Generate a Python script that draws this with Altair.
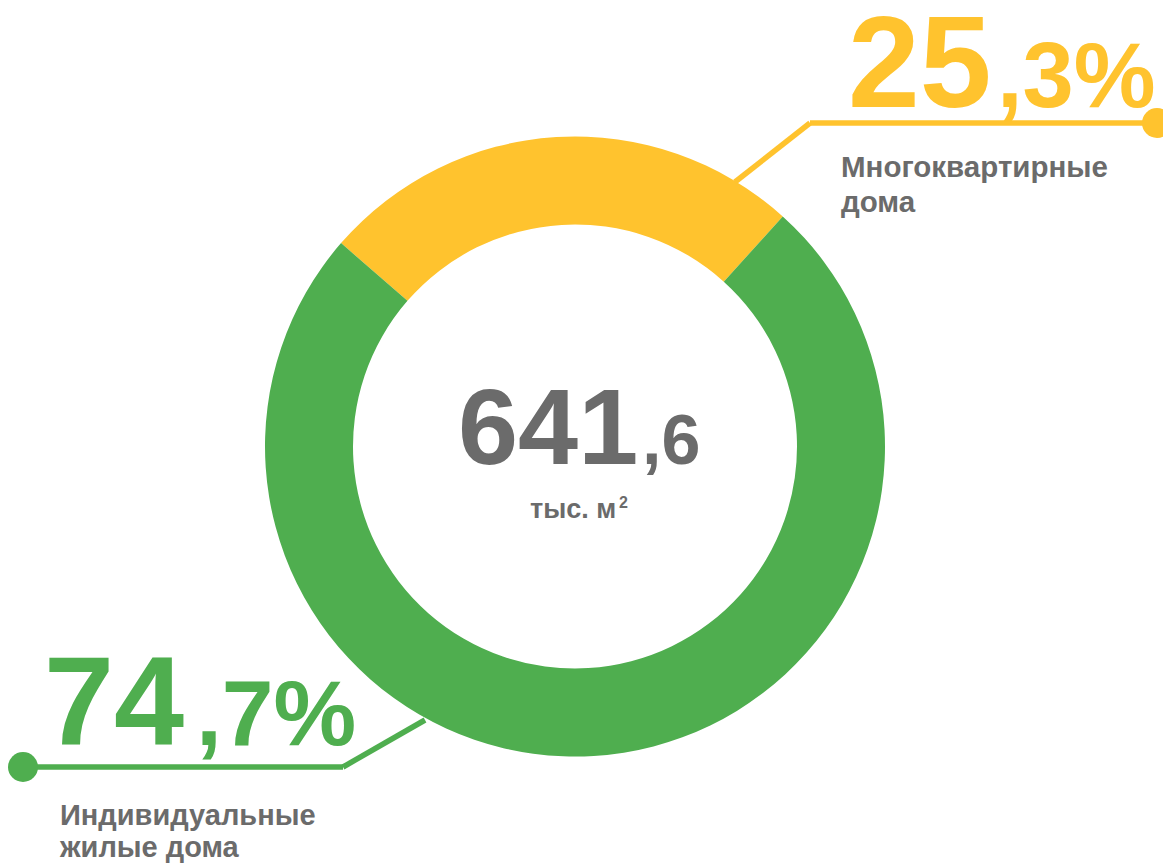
import altair as alt
import pandas as pd
import math

categories = ["Многоквартирные дома", "Индивидуальные жилые дома"]
shares = [25.3, 74.7]
colors = ["#FFC32E", "#4FAE4F"]
total_int = "641"
total_dec = ",6"
unit = "тыс. м"
unit_sup = "2"
yellow_int, yellow_dec = "25", ",3%"
green_int, green_dec = "74", ",7%"
yellow_lines = ["Многоквартирные", "дома"]
green_lines = ["Индивидуальные", "жилые дома"]

GREY = "#6B6B6B"
FONT = "Liberation Sans"
CX, CY = 567, 438.5
start = math.radians(-49.0)

df = pd.DataFrame({"cat": categories, "share": shares, "ord": [0, 1]})
dummy = pd.DataFrame({"a": [0]})

donut = alt.Chart(df).mark_arc(outerRadius=310, innerRadius=222, stroke=None).encode(
    theta=alt.Theta("share:Q", stack=True, scale=alt.Scale(range=[start, start + 2 * math.pi])),
    order=alt.Order("ord:Q"),
    color=alt.Color("cat:N", scale=alt.Scale(domain=categories, range=colors), legend=None),
    x=alt.value(CX), y=alt.value(CY),
)

base = alt.Chart(dummy)

def txt(s, x, y, size, color, align="left"):
    return base.mark_text(text=s, font=FONT, fontWeight="bold", fontSize=size, color=color,
                          align=align, baseline="alphabetic").encode(x=alt.value(x), y=alt.value(y))

def rule(x1, y1, x2, y2, color):
    return base.mark_rule(color=color, strokeWidth=5.5, strokeCap="butt").encode(
        x=alt.value(x1), y=alt.value(y1), x2=alt.value(x2), y2=alt.value(y2))

def dot(x, y, color):
    return base.mark_point(filled=True, shape="circle", size=900, color=color, opacity=1).encode(
        x=alt.value(x), y=alt.value(y))

Y = colors[0]
G = colors[1]

layers = [
    donut,
    # center
    txt(total_int, 450, 456, 108, GREY),
    txt(total_dec, 634, 456, 70, GREY),
    txt(unit, 522, 510, 27, GREY),
    txt(unit_sup, 611, 500, 16, GREY),
    # yellow label
    rule(802, 115, 1149, 115, Y),
    rule(802, 115, 727, 174, Y),
    dot(1149, 115, Y),
    txt(yellow_int, 840, 99, 129, Y),
    txt(yellow_dec, 989, 99, 92, Y),
    txt(yellow_lines[0], 833, 169, 29.5, GREY),
    txt(yellow_lines[1], 833, 204, 29.5, GREY),
    # green label
    rule(15, 759, 335, 759, G),
    rule(335, 759, 417, 712, G),
    dot(15, 759, G),
    txt(green_int, 36, 737, 126, G),
    txt(green_dec, 188, 737, 93, G),
    txt(green_lines[0], 52, 817, 29, GREY),
    txt(green_lines[1], 52, 849, 29, GREY),
]

chart = alt.layer(*layers).properties(
    width=1155, height=856, autosize=alt.AutoSizeParams(type="none"), padding=0
).configure_view(stroke=None)

chart.save("out.html", embed_options={"renderer": "svg", "actions": False})
